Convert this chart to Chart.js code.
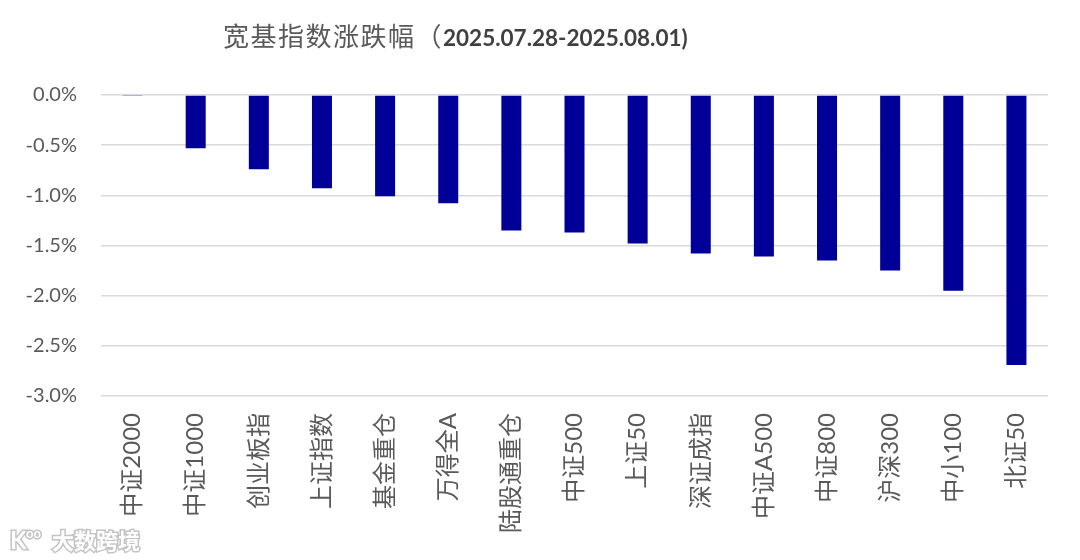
<!DOCTYPE html>
<html><head><meta charset="utf-8">
<script src="https://cdn.jsdelivr.net/npm/chart.js@4.4.0/dist/chart.umd.min.js"></script>
<style>html,body{margin:0;padding:0;background:#fff;}#wrap{width:1080px;height:560px;position:relative;}</style>
</head><body><div id="wrap"><canvas id="c"></canvas></div>
<script>
const categories = ['中证2000','中证1000','创业板指','上证指数','基金重仓','万得全A','陆股通重仓','中证500','上证50','深证成指','中证A500','中证800','沪深300','中小100','北证50'];
const weeklyChange = [-0.005,-0.53,-0.74,-0.93,-1.01,-1.08,-1.35,-1.37,-1.48,-1.58,-1.61,-1.65,-1.75,-1.95,-2.69];
const yMin = -3.0;
const yMax = 0.0;
const yStep = 0.5;
const titleMain = '宽基指数涨跌幅（';
const titleDate = '2025.07.28-2025.08.01)';
const watermark = '大数跨境';

const titlePlugin = {
  id: 'mixedTitle',
  afterDraw(chart) {
    const ctx = chart.ctx;
    ctx.save();
    ctx.textBaseline = 'alphabetic';
    ctx.textAlign = 'left';
    ctx.font = '26px "Noto Sans CJK SC"';
    if ('letterSpacing' in ctx) ctx.letterSpacing = '1.5px';
    ctx.fillStyle = '#595959';
    let x = 223;
    const y = 46;
    ctx.fillText(titleMain, x, y);
    x += ctx.measureText(titleMain).width;
    if ('letterSpacing' in ctx) ctx.letterSpacing = '0px';
    ctx.font = 'bold 22.5px Lato';
    ctx.fillStyle = '#404040';
    ctx.fillText(titleDate, x, y);
    // watermark
    ctx.font = 'bold 22px "Noto Sans CJK SC"';
    ctx.lineWidth = 3;
    ctx.strokeStyle = '#c4c4c4';
    ctx.fillStyle = '#ffffff';
    ctx.strokeText(watermark, 52, 549);
    ctx.fillText(watermark, 52, 549);
    ctx.font = 'bold 24px Lato';
    ctx.strokeText('K', 10, 549);
    ctx.fillText('K', 10, 549);
    ctx.font = 'bold 13px Lato';
    ctx.strokeText('oo', 26, 538);
    ctx.fillText('oo', 26, 538);
    ctx.restore();
  }
};

new Chart(document.getElementById('c'), {
  type: 'bar',
  data: {
    labels: categories,
    datasets: [{
      data: weeklyChange,
      backgroundColor: '#000099',
      borderWidth: 0,
      categoryPercentage: 1.0,
      barPercentage: 0.317
    }]
  },
  options: {
    responsive: true,
    maintainAspectRatio: false,
    animation: false,
    layout: { padding: { top: 95, right: 32, left: 0, bottom: 0 } },
    plugins: { legend: { display: false }, tooltip: { enabled: false }, title: { display: false } },
    scales: {
      x: {
        grid: { display: false, drawTicks: false },
        border: { display: false },
        ticks: {
          autoSkip: false, minRotation: 90, maxRotation: 90, padding: 17,
          color: '#595959',
          font: { family: 'Lato, "Noto Sans CJK SC"', size: 24 }
        },
        afterFit(scale) { scale.height = 164; }
      },
      y: {
        min: yMin, max: yMax,
        grid: { color: '#d9d9d9', lineWidth: 1.5, drawTicks: false },
        border: { display: false },
        ticks: {
          stepSize: yStep, padding: 24,
          color: '#595959',
          font: { family: 'Lato', size: 20 },
          callback: v => v.toFixed(1) + '%'
        },
        afterFit(scale) { scale.width = 101; }
      }
    }
  },
  plugins: [titlePlugin]
});
</script>
</body></html>
